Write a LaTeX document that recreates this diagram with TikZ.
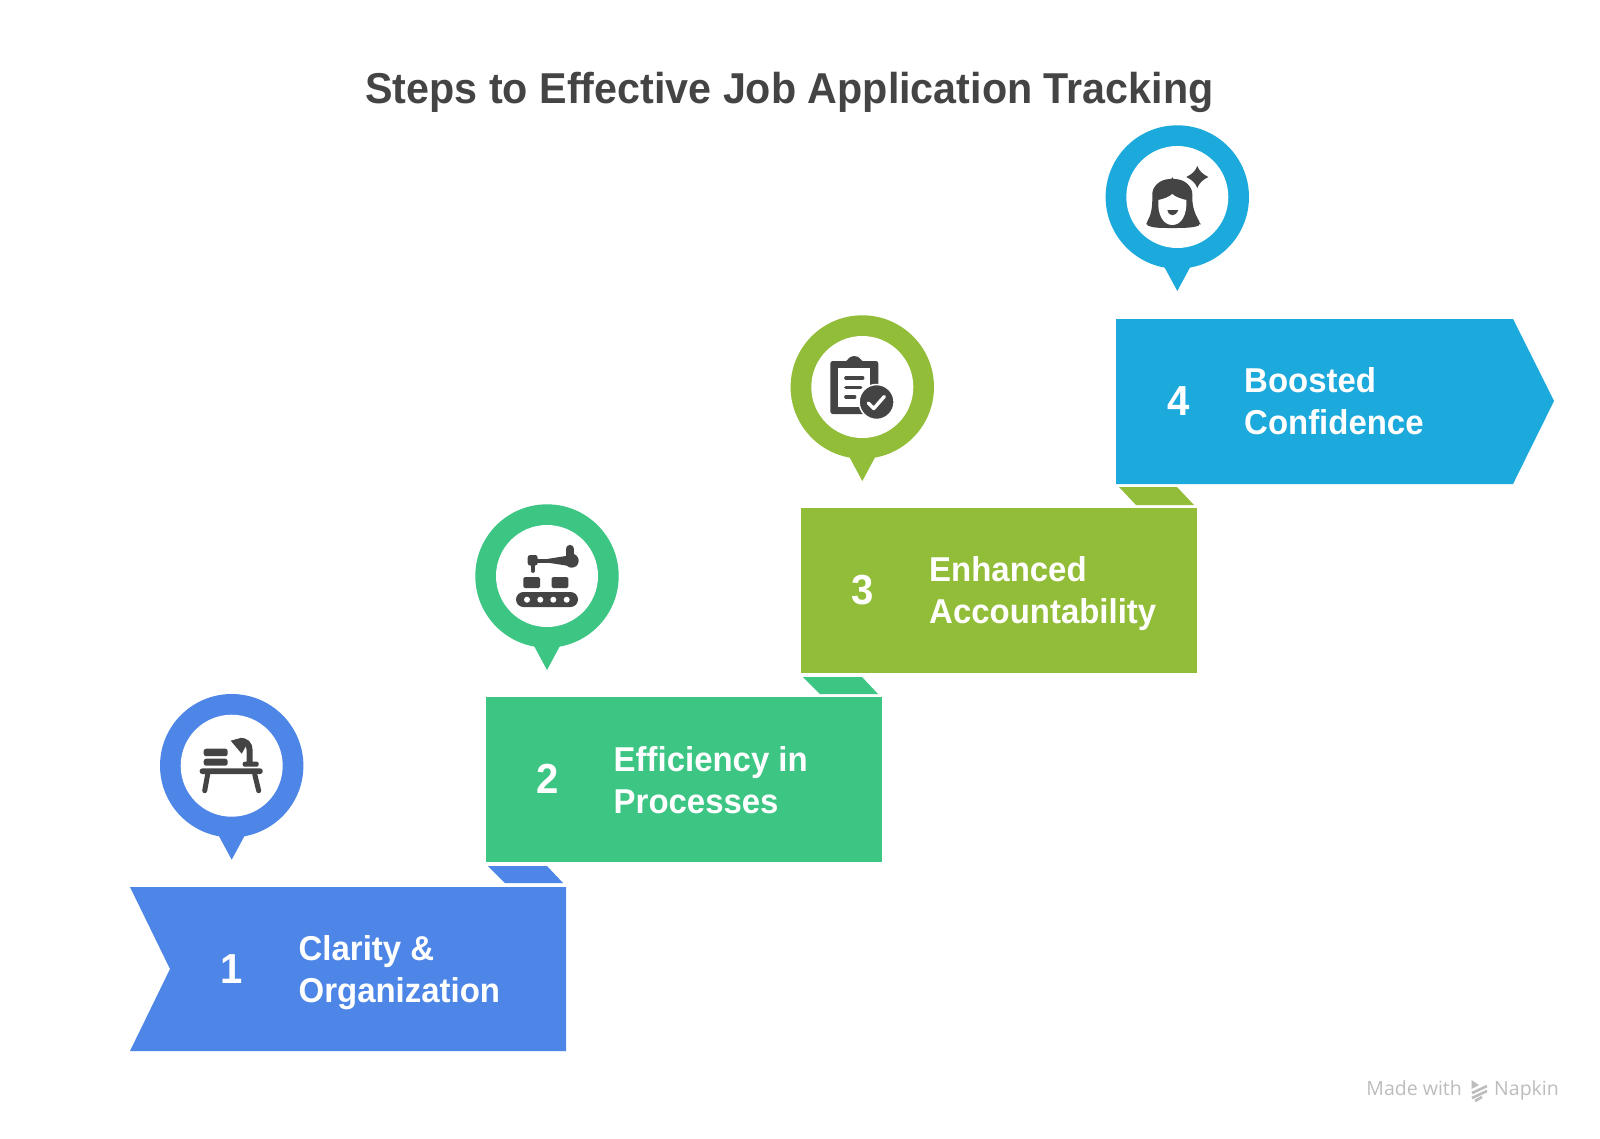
\documentclass[tikz,border=0pt]{standalone}
\usepackage{fontspec}
\setmainfont[FakeStretch=0.955]{Liberation Sans}
\newfontfamily\markfont{Open Sans}
\definecolor{bluestep}{HTML}{4E86E8}
\definecolor{greenstep}{HTML}{3CC583}
\definecolor{olivestep}{HTML}{92BD39}
\definecolor{skystep}{HTML}{1CA9DB}
\definecolor{icondark}{HTML}{444444}
\definecolor{markgray}{HTML}{BDBDBD}
\tikzset{
	pics/pin/.style={code={
		\fill[#1] (-14,68) -- (0,94) -- (14,68) -- cycle;
		\fill[#1] (0,0) circle (71.7pt);
		\fill[white] (0,0) circle (51pt);
	}},
	pics/deskicon/.style={code={
		\fill[icondark,rounded corners=2.5pt] (-32,2.7) rectangle (31,8.3);
		\draw[icondark,line width=5pt,line cap=round] (-24,8.5) -- (-27,25);
		\draw[icondark,line width=5pt,line cap=round] (23,8.5) -- (27,25);
		\fill[icondark,rounded corners=2.5pt] (-28,-17) rectangle (-4,-9.5);
		\fill[icondark,rounded corners=2.5pt] (-28,-7) rectangle (-4,0);
		\fill[icondark,rounded corners=2pt] (11,-4) rectangle (27,1);
		\draw[icondark,line width=6pt] (18,-3) -- (18,-15) .. controls (18,-22) and (14,-25) .. (8,-25);
		\fill[icondark] (-1,-25) -- (8,-27.5) -- (15,-21) -- (10,-12) -- cycle;
	}},
	pics/roboticon/.style={code={
		\fill[icondark,rounded corners=7.5pt] (-31,16) rectangle (31,31);
		\fill[white] (-20,23.7) circle (3pt) (-6.7,23.7) circle (3pt) (6.3,23.7) circle (3pt) (19.7,23.7) circle (3pt);
		\fill[icondark,rounded corners=1.5pt] (-23.7,1) rectangle (-7,12);
		\fill[icondark,rounded corners=1.5pt] (4.7,1) rectangle (21.3,12);
		\fill[icondark] (24.7,-15.3) circle (7pt);
		\draw[icondark,line width=8.3pt,line cap=round] (23,-27) -- (23,-18);
		\draw[icondark,line width=4pt] (-12,-15.3) -- (6,-15.3);
		\fill[icondark] (0,-17) -- (22,-20.5) -- (22,-10) -- (0,-13.5) -- cycle;
		\fill[icondark,rounded corners=2.5pt] (-19.3,-21) rectangle (-9.3,-10.5);
		\draw[icondark,line width=3.8pt,line cap=round] (-14.3,-11) -- (-14.3,-5);
	}},
	pics/clipicon/.style={code={
		\fill[icondark,rounded corners=2.5pt] (-32,-26) rectangle (16,27);
		\fill[icondark] (-18,-25) .. controls (-14,-26) and (-14,-31) .. (-8,-31) .. controls (-2,-31) and (-2,-26) .. (2,-25) -- cycle;
		\fill[white] (-24,-19) rectangle (8,20);
		\draw[icondark,line width=3.3pt,line cap=round] (-16.5,-9) -- (0.5,-9);
		\draw[icondark,line width=3.3pt,line cap=round] (-16.5,0.7) -- (-1.5,0.7);
		\draw[icondark,line width=3.3pt,line cap=round] (-16.5,10) -- (-7.5,10);
		\fill[icondark,draw=white,line width=1.5pt] (14.3,15) circle (17.5pt);
		\draw[white,line width=3.4pt,line cap=round,line join=round] (6,16) -- (11.5,21.5) -- (22,9.5);
	}},
	pics/womanicon/.style={code={
		\fill[icondark,rounded corners=2pt] (-5,-18) .. controls (-18,-18) and (-25,-10) .. (-25,-1) .. controls (-25,10) and (-26,18) .. (-31,26) -- (-31,28) .. controls (-24,31) and (-15,31) .. (-5,31) .. controls (5,31) and (15,31) .. (23,28) -- (23,26) .. controls (18,18) and (15,10) .. (15,-1) .. controls (15,-10) and (8,-18) .. (-5,-18) -- cycle;
		\fill[white] (-5,-3) .. controls (-8,0) and (-14,2) .. (-19,3) .. controls (-20,18) and (-14,28) .. (-5,28) .. controls (4,28) and (10,18) .. (9,3) .. controls (4,2) and (-2,0) .. (-5,-3) -- cycle;
		\fill[icondark] (-10,13) .. controls (-8,20) and (-2,20) .. (1,13) -- cycle;
		\fill[icondark] (20,-31) .. controls (22,-26) and (25,-23) .. (31,-20) .. controls (25,-17) and (22,-14) .. (20,-9) .. controls (18,-14) and (15,-17) .. (9,-20) .. controls (15,-23) and (18,-26) .. (20,-31) -- cycle;
	}},
	stepnum/.style={text=white,font=\fontsize{42}{42}\selectfont\bfseries},
	steplabel/.style={text=white,anchor=west,align=left,inner sep=0pt,font=\fontsize{34.5}{42}\selectfont\bfseries}
}
\begin{document}
\begin{tikzpicture}[x=1pt,y=-1pt]
		\useasboundingbox (0,0) rectangle (1600,1138);
		\fill[white] (0,0) rectangle (1600,1138);

		\node[text=icondark,font=\fontsize{43.2}{44}\selectfont\bfseries] (title) at (789.5,92.5) {Steps to Effective Job Application Tracking};

		\fill[bluestep] (488,866) -- (547,866) -- (563,883) -- (505,883) -- cycle;
		\fill[greenstep] (803,677) -- (862,677) -- (878,694) -- (820,694) -- cycle;
		\fill[olivestep] (1119,487) -- (1177,487) -- (1194,505) -- (1136,505) -- cycle;

		\fill[bluestep] (130,887) -- (566,887) -- (566,1051) -- (130,1051) -- (170,969) -- cycle;
		\fill[greenstep] (486,697) rectangle (882,862);
		\fill[olivestep] (801,508) rectangle (1197,673);
		\fill[skystep] (1116,319) -- (1513,319) -- (1554,401) -- (1513,484) -- (1116,484) -- cycle;

		\pic at (231.7,765.7) {pin=bluestep};
		\pic at (231.7,765.7) {deskicon};
		\pic at (547,576) {pin=greenstep};
		\pic at (547,576) {roboticon};
		\pic at (862.3,387) {pin=olivestep};
		\pic at (862.3,387) {clipicon};
		\pic at (1177.3,197) {pin=skystep};
		\pic at (1177.3,197) {womanicon};

		\node[stepnum] (num1) at (231.5,969) {1};
		\node[stepnum] (num2) at (547.5,779) {2};
		\node[stepnum] (num3) at (862.5,590) {3};
		\node[stepnum] (num4) at (1178.5,401) {4};

		\node[steplabel] (label1) at (298.5,973) {Clarity \&\\Organization};
		\node[steplabel] (label2) at (613.5,780) {Efficiency in\\Processes};
		\node[steplabel] (label3) at (929,594) {Enhanced\\Accountability};
		\node[steplabel] (label4) at (1244,401) {Boosted\\Confidence};

		\node[text=markgray,anchor=base east,inner sep=0pt,font=\fontsize{19.5}{19}\selectfont\markfont] (made) at (1462,1095) {Made with};
		\node[text=markgray,anchor=base west,inner sep=0pt,font=\fontsize{19.5}{19}\selectfont\markfont] (napkin) at (1494,1095) {Napkin};
		\fill[markgray] (1471.5,1080) -- (1479,1085) -- (1471.5,1089) -- cycle;
		\draw[markgray,line width=2.6pt] (1487,1086) -- (1472,1093);
		\draw[markgray,line width=2.6pt] (1487,1091) -- (1472,1098);
		\draw[markgray,line width=2.6pt] (1482,1097) -- (1475,1101);
\end{tikzpicture}
\end{document}
